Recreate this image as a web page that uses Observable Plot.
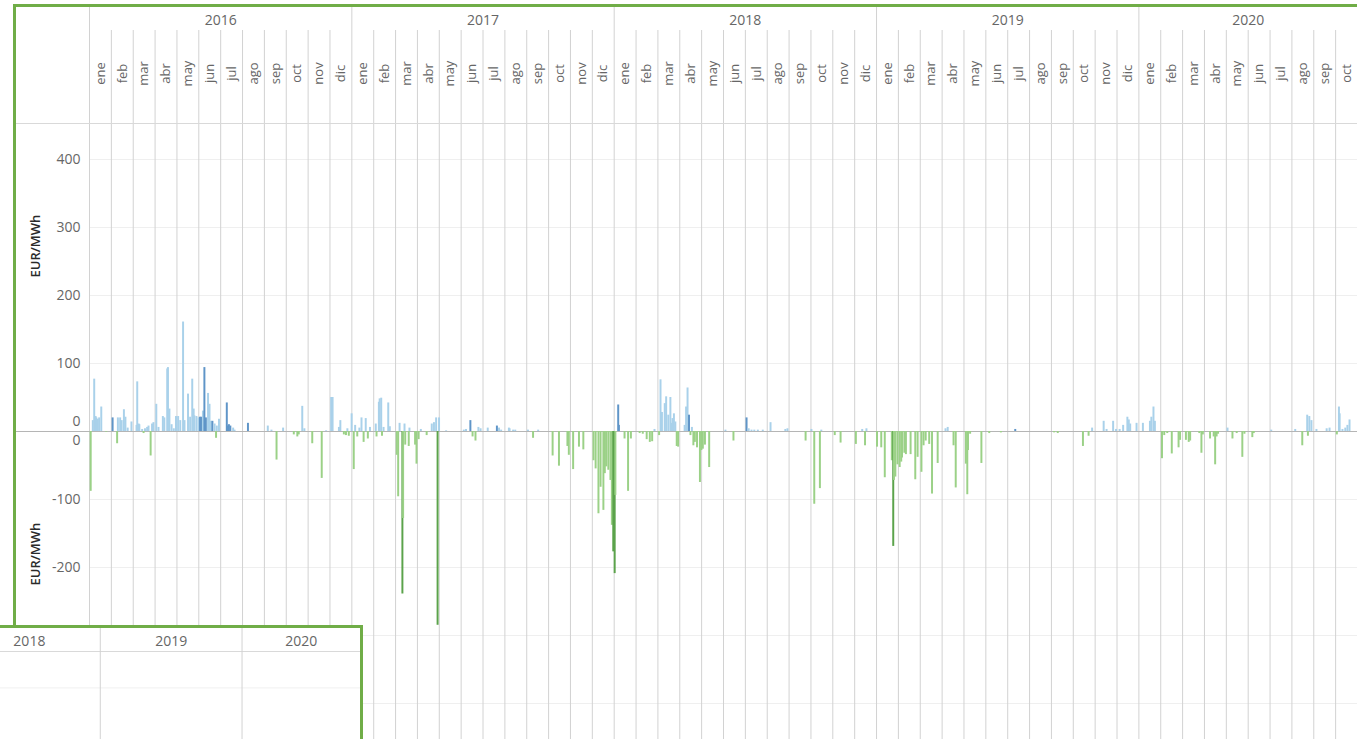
<!DOCTYPE html>
<html><head><meta charset="utf-8">
<script src="https://cdn.jsdelivr.net/npm/d3@7"></script>
<script src="https://cdn.jsdelivr.net/npm/@observablehq/plot@0.6"></script>
<style>
html,body{margin:0;padding:0;background:#fff;}
body{width:1357px;height:739px;overflow:hidden;position:relative;font-family:"Open Sans",Lato,sans-serif;}
#chart{position:absolute;left:0;top:0;}
#frame{position:absolute;left:13px;top:4px;width:1420px;height:820px;border:3px solid #70ad47;box-sizing:border-box;pointer-events:none;}
#overlay{position:absolute;left:0;top:625px;width:360px;height:130px;background:#fff;border-top:3px solid #70ad47;border-right:3px solid #70ad47;}
</style></head>
<body>
<div id="chart"></div>
<div id="frame"></div>
<div id="overlay"></div>
<script>
const months = ["ene","feb","mar","abr","may","jun","jul","ago","sep","oct","nov","dic"];
const years = [2016, 2017, 2018, 2019, 2020];
const monthsShown = 58; // ene 2016 .. oct 2020
const yMax = 453;
const yTicks = [400, 300, 200, 100, -100, -200, -300, -400];
const overlayYears = [2018, 2019, 2020];

// daily values (EUR/MWh), [month-day, value]
const bars2016 = [
 ["01-02",-88],["01-05",16],["01-07",77],["01-09",22],["01-10",20],["01-12",18],["01-14",20],["01-17",36],["01-24",-1],
 ["02-02",20],["02-08",-18],["02-09",20],["02-12",20],["02-14",16],["02-17",32],["02-19",21],["02-22",5],["02-27",14],
 ["03-05",9],["03-06",73],["03-08",11],["03-09",10],["03-13",3],["03-15",-3],["03-17",4],["03-20",6],["03-22",8],["03-25",-36],["03-27",11],["03-29",13],
 ["04-02",40],["04-05",6],["04-11",22],["04-13",20],["04-17",92],["04-18",94],["04-20",33],["04-23",10],["04-26",4],["04-29",22],
 ["05-02",22],["05-05",16],["05-09",161],["05-11",16],["05-16",55],["05-19",21],["05-22",77],["05-24",33],["05-25",23],["05-28",22],["05-31",20],
 ["06-02",21],["06-04",21],["06-06",30],["06-08",94],["06-10",20],["06-13",56],["06-15",40],["06-17",15],["06-19",15],["06-22",11],["06-24",-10],["06-25",8],["06-28",18],
 ["07-09",42],["07-10",8],["07-12",10],["07-14",8],["07-18",5],["07-20",2],
 ["08-08",12],
 ["09-05",8],["09-10",2],["09-17",-42],["09-26",5],
 ["10-11",-5],["10-16",-8],["10-18",-5],["10-23",37],["10-26",4],
 ["11-06",-18],["11-19",-69],["11-25",1],
 ["12-02",50],["12-04",50],["12-13",6],["12-15",16],["12-20",-5],["12-23",-6],["12-25",4],["12-27",-7],["12-31",26]
];
const bars2017 = [
 ["01-03",-56],["01-05",9],["01-08",-8],["01-11",5],["01-14",20],["01-17",-16],["01-20",19],["01-23",-11],["01-26",6],
 ["02-03",11],["02-04",-8],["02-07",43],["02-08",48],["02-10",49],["02-11",-7],["02-13",6],["02-19",42],["02-21",7],
 ["03-02",-35],["03-04",-96],["03-06",12],["03-10",-239],["03-11",-128],["03-13",11],["03-14",-20],["03-19",-22],["03-20",5],["03-28",-20],["03-30",-48],
 ["04-02",-12],["04-05",3],["04-13",-6],["04-20",11],["04-23",13],["04-26",20],["04-28",-285],["04-30",20],
 ["05-10",1],
 ["06-04",2],["06-07",3],["06-13",16],["06-16",-8],["06-20",-14],["06-24",6],["06-27",4],
 ["07-07",5],["07-20",8],["07-23",5],["07-26",2],
 ["08-06",5],["08-07",4],["08-12",2],["08-15",2],
 ["09-02",2],["09-09",-10],["09-16",2],
 ["10-06",-36],["10-15",-51],["10-27",-22],["10-29",-35],
 ["11-04",-56],["11-12",-23],["11-18",-27],
 ["12-02",-43],["12-05",-55],["12-09",-121],["12-12",-82],["12-16",-116],["12-18",-62],["12-20",-52],["12-23",-57],["12-26",-72],["12-28",-138],["12-30",-177]
];
const bars2018 = [
 ["01-01",-209],["01-02",-94],["01-06",39],["01-07",9],["01-15",-11],["01-20",-88],["01-24",-11],
 ["02-05",-3],["02-09",-4],["02-14",-12],["02-18",-16],["02-21",-15],["02-24",3],
 ["03-02",-6],["03-04",76],["03-06",28],["03-10",41],["03-12",51],["03-15",24],["03-18",50],["03-20",12],["03-21",19],["03-23",26],["03-25",14],["03-27",-22],["03-29",-23],
 ["04-07",9],["04-09",36],["04-11",64],["04-13",24],["04-15",-6],["04-17",6],["04-19",-21],["04-21",-16],["04-24",-24],["04-28",-75],["04-30",-28],
 ["05-02",-26],["05-05",-20],["05-11",-53],
 ["06-03",2],["06-14",-14],
 ["07-02",20],["07-05",4],["07-09",2],["07-13",2],["07-18",2],["07-25",2],
 ["08-05",13],["08-26",3],["08-29",4],
 ["09-23",-14],
 ["10-01",3],["10-05",-107],["10-13",-84],["10-15",2],
 ["11-03",-6],["11-11",-17],
 ["12-02",-19],["12-11",3],["12-15",-21],["12-17",4]
];
const bars2019 = [
 ["01-01",-23],["01-07",-24],["01-12",-68],["01-22",-43],["01-23",-39],["01-24",-169],["01-25",-72],["01-27",-67],["01-30",-49],
 ["02-02",-53],["02-04",-45],["02-05",-39],["02-08",-32],["02-10",-34],["02-16",-34],["02-22",-71],["02-25",-38],
 ["03-02",-60],["03-05",-21],["03-08",-14],["03-13",-19],["03-17",-92],["03-25",-47],
 ["04-05",4],["04-08",6],["04-16",-21],["04-19",-83],
 ["05-03",-48],["05-05",-93],["05-06",-28],["05-09",-4],["05-25",-47],
 ["06-05",-3],["06-21",-2],
 ["07-11",3],
 ["09-04",-2],["09-09",-3],
 ["10-14",-22],["10-22",-7],["10-27",5],
 ["11-12",15],["11-16",3],["11-25",15],["11-29",3],
 ["12-04",3],["12-09",9],["12-15",21],["12-17",17],["12-19",11],["12-28",12]
];
const bars2020 = [
 ["01-06",12],["01-16",15],["01-18",21],["01-21",36],["01-23",15],
 ["02-02",-40],["02-05",-6],["02-09",-3],["02-15",-33],["02-24",-24],["02-26",-13],
 ["03-05",-13],["03-09",-16],["03-11",-14],["03-24",-3],["03-27",-32],["03-29",-5],
 ["04-08",-11],["04-13",-8],["04-15",-49],["04-17",-8],["04-19",-4],
 ["05-02",5],["05-09",-11],["05-15",-3],["05-23",-38],["05-26",-4],
 ["06-06",-9],["06-08",-3],
 ["07-02",2],
 ["08-05",3],["08-15",-21],["08-22",24],["08-23",-7],["08-25",22],["08-28",16],
 ["09-04",3],["09-18",4],["09-22",5],
 ["10-02",-5],["10-05",36],["10-06",26],["10-10",3],["10-14",5],["10-17",9],["10-20",17]
];
// days drawn in the darker shade
const darkBars = ["2016-02-02","2016-06-02","2016-06-04","2016-06-08","2016-06-10","2016-06-19","2016-07-09","2016-07-10","2016-07-12","2016-07-14","2016-08-08",
 "2017-03-10","2017-04-28","2017-06-13","2017-07-20","2017-12-30","2018-01-01","2018-01-06","2018-01-07","2018-04-13","2018-07-02","2019-01-24","2019-07-11"];

const byYear = [[2016,bars2016],[2017,bars2017],[2018,bars2018],[2019,bars2019],[2020,bars2020]];
const bars = byYear.flatMap(([yr, arr]) => arr.map(([md, v]) => {
  const [m, d] = md.split("-").map(Number);
  const dim = new Date(Date.UTC(yr, m, 0)).getUTCDate();
  const date = `${yr}-${md}`;
  return {date, value: v, pos: (yr - years[0]) * 12 + (m - 1) + (d - 1) / dim,
          kind: (v >= 0 ? "pos" : "neg") + (darkBars.includes(date) ? "1" : "0")};
}));

const monthCells = d3.range(monthsShown).map(i => ({i, name: months[i % 12]}));
const yearCells = years.map((y, k) => ({y, start: k * 12, end: Math.min(k * 12 + 12, monthsShown)}));
const monthBounds = d3.range(1, monthsShown).filter(i => i % 12 !== 0);

const grey = "#666666";
const chart = Plot.plot({
  width: 1357, height: 739,
  marginLeft: 89, marginRight: 0, marginTop: 123, marginBottom: 0,
  x: {domain: [0, monthsShown], axis: null},
  y: {domain: [-yMax, yMax], axis: null},
  color: {domain: ["pos0","pos1","neg0","neg1"], range: ["#a9d1ea","#5f95c8","#9bd187","#5ba34b"]},
  style: {fontFamily: "'Open Sans', Lato, sans-serif", background: "transparent"},
  marks: [
    Plot.ruleY(yTicks, {stroke: "#efefef", strokeWidth: 1}),
    Plot.ruleX(monthBounds, {stroke: "#d2d2d2", insetTop: -93}),
    Plot.ruleX(yearCells, {x: "start", stroke: "#d2d2d2", insetTop: -116}),
    Plot.ruleY([yMax], {stroke: "#d9d9d9", insetLeft: -75}),
    Plot.ruleY([0], {stroke: "#b5b5b5", insetLeft: -75}),
    Plot.rectY(bars, {x1: "pos", x2: d => d.pos + 0.09, y1: 0, y2: "value", fill: "kind"}),
    Plot.text(monthCells, {x: d => d.i + 0.5, text: "name", frameAnchor: "top", dx: -5, dy: -50, rotate: -90, textAnchor: "middle", fontSize: 13, fill: grey}),
    Plot.text(yearCells, {x: d => (d.start + d.end) / 2, text: d => String(d.y), frameAnchor: "top", dy: -108, fontSize: 14, fill: grey}),
    Plot.text(yTicks, {y: d => d, text: d => String(d), frameAnchor: "left", dx: -9, textAnchor: "end", fontSize: 14, fill: grey}),
    Plot.text([0], {y: d => d, text: d => String(d), frameAnchor: "left", dx: -9, dy: -10, textAnchor: "end", fontSize: 14, fill: grey}),
    Plot.text([0], {y: d => d, text: d => String(d), frameAnchor: "left", dx: -9, dy: 9, textAnchor: "end", fontSize: 14, fill: grey}),
    Plot.text([yMax / 2, -yMax / 2], {y: d => d, text: () => "EUR/MWh", frameAnchor: "left", dx: -54, rotate: -90, fontSize: 13, fill: "#2a2a2a", fontWeight: 600})
  ]
});
document.getElementById("chart").appendChild(chart);

// overlapping sheet (bottom-left)
const oStart = new Date(Date.UTC(overlayYears[0], 0, 1));
const oEnd = new Date(Date.UTC(2020, 10, 1));
const oCells = overlayYears.map(y => {
  const s = new Date(Date.UTC(y, 0, 1));
  const e = new Date(Math.min(Date.UTC(y + 1, 0, 1), +oEnd));
  return {y, s, mid: new Date((+s + +e) / 2)};
});
const overlay = Plot.plot({
  width: 360, height: 114,
  marginLeft: 0, marginRight: 0, marginTop: 23, marginBottom: 0,
  x: {type: "utc", domain: [oStart, oEnd], range: [-42, 360], axis: null},
  y: {domain: [0, 1], axis: null},
  style: {fontFamily: "'Open Sans', Lato, sans-serif", background: "transparent"},
  marks: [
    Plot.ruleY([0.6], {stroke: "#f0f0f0"}),
    Plot.ruleY([1], {stroke: "#d9d9d9"}),
    Plot.ruleX(oCells.slice(1), {x: "s", stroke: "#d2d2d2", insetTop: -23}),
    Plot.text(oCells, {x: "mid", text: d => String(d.y), frameAnchor: "top", dy: -15, fontSize: 14, fill: grey})
  ]
});
document.getElementById("overlay").appendChild(overlay);
</script>
</body></html>
